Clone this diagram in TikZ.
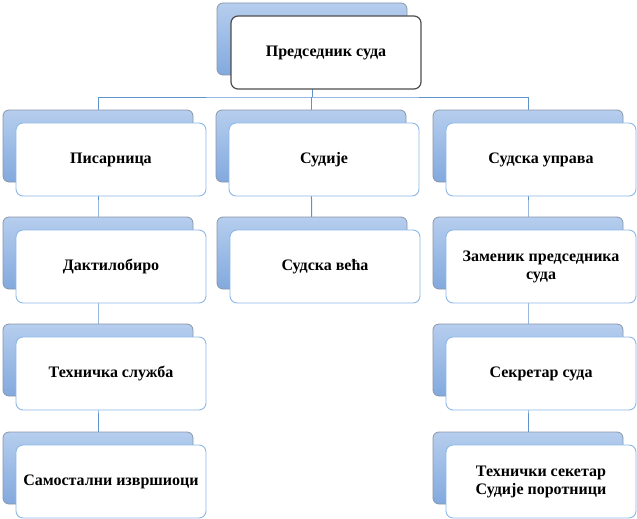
\documentclass[tikz,border=0pt]{standalone}
\usepackage{fontspec}
\setmainfont{Liberation Serif}
\usetikzlibrary{backgrounds}

\definecolor{backtop}{HTML}{B6CEEE}
\definecolor{backbot}{HTML}{82A9DE}
\definecolor{backline}{HTML}{8A96A8}
\definecolor{frontline}{HTML}{8CB8E8}
\definecolor{headline}{HTML}{4D4D4D}
\definecolor{linkblue}{HTML}{5F93CC}

\tikzset{
  back/.style={draw=backline, line width=0.8pt, rounded corners=6pt, top color=backtop, bottom color=backbot,
    minimum width=190pt, minimum height=72pt, inner sep=0pt},
  front/.style={draw=frontline, line width=0.9pt, fill=white, rounded corners=7pt,
    minimum width=190pt, minimum height=73pt, inner sep=2pt, align=center,
    font=\fontsize{16}{18}\selectfont\bfseries},
  head/.style={front, draw=headline, line width=1.2pt},
  link/.style={draw=linkblue, line width=1pt}
}

\begin{document}
\begin{tikzpicture}[x=1pt, y=-1pt]
        \useasboundingbox (0,0) rectangle (637,519);

        % top
        \node[back] (btop) at (312,39) {};
        \node[head] (ptop) at ([shift={(14,13.5)}]btop.center) {Председник суда};

        % left column
        \node[back] (b1) at (98,146) {};
        \node[front] (p1) at ([shift={(13,13.5)}]b1.center) {Писарница};
        \node[back] (b4) at (98,253) {};
        \node[front] (p4) at ([shift={(13,13.5)}]b4.center) {Дактилобиро};
        \node[back] (b5) at (98,360) {};
        \node[front] (p5) at ([shift={(13,13.5)}]b5.center) {Техничка служба};
        \node[back] (b6) at (98,468) {};
        \node[front] (p6) at ([shift={(13,13.5)}]b6.center) {Самостални извршиоци};

        % middle column
        \node[back] (b2) at (311,146) {};
        \node[front] (p2) at ([shift={(13,13.5)}]b2.center) {Судије};
        \node[back] (b7) at (312,253) {};
        \node[front] (p7) at ([shift={(13,13.5)}]b7.center) {Судска већа};

        % right column
        \node[back] (b3) at (528,146) {};
        \node[front] (p3) at ([shift={(13,13.5)}]b3.center) {Судска управа};
        \node[back] (b8) at (528,253) {};
        \node[front] (p8) at ([shift={(13,13.5)}]b8.center) {Заменик председника\\суда};
        \node[back] (b9) at (528,360) {};
        \node[front] (p9) at ([shift={(13,13.5)}]b9.center) {Секретар суда};
        \node[back] (b10) at (528,468) {};
        \node[front] (p10) at ([shift={(13,13.5)}]b10.center) {Технички секетар\\Судије поротници};

        \coordinate (bus) at (312,97);

        \begin{scope}[on background layer]
          \draw[link] (btop.center) -- (bus);
          \draw[link] (b1.center) |- (bus) -| (b3.center);
          \draw[link] (bus) -| (b2.center);
          \draw[link] (b1.center) -- (b4.center) -- (b5.center) -- (b6.center);
          \draw[link] (b2.center) -- (b7.center);
          \draw[link] (b3.center) -- (b8.center) -- (b9.center) -- (b10.center);
        \end{scope}
    \end{tikzpicture}
\end{document}
